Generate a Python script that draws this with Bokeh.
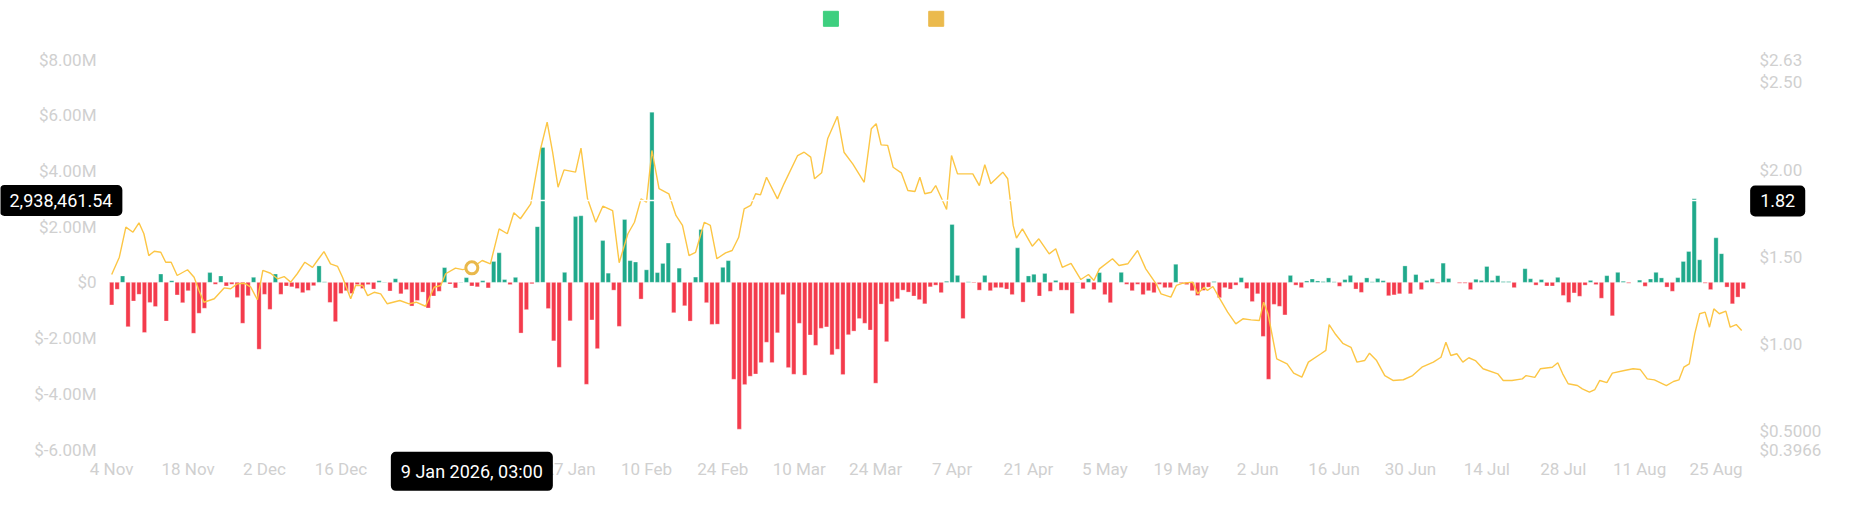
from bokeh.plotting import figure
from bokeh.models import ColumnDataSource, Range1d, Span, Label
from bokeh.core.properties import value
from bokeh.embed import file_html
from bokeh.resources import INLINE

# net flow per day (millions of USD), day 0 = 4 Nov 2025
flows = [
    -0.81, -0.25, 0.23, -1.59, -0.67, -0.43, -1.80, -0.72, -0.87, 0.30,
    -1.39, 0.06, -0.45, -0.73, -0.30, -1.83, -1.11, -0.93, 0.35, -0.07,
    0.23, -0.13, -0.07, -0.54, -1.47, -0.48, 0.18, -2.40, -0.43, -0.97,
    0.30, -0.43, -0.13, -0.16, -0.22, -0.37, -0.29, -0.12, 0.59, 0.02,
    -0.72, -1.41, -0.40, -0.30, -0.40, -0.08, -0.22, -0.08, -0.24, 0.06,
    0.01, -0.31, 0.13, -0.41, -0.26, -0.85, -0.65, -0.35, -0.92, -0.49,
    -0.32, 0.53, -0.06, -0.20, 0.01, 0.17, -0.13, -0.16, 0.06, -0.20,
    0.75, 1.06, 0.10, -0.08, 0.18, -1.82, -0.98, -0.05, 2.00, 4.84,
    -0.94, -2.10, -3.05, 0.36, -1.38, 2.36, 2.39, -3.66, -1.35, -2.38,
    1.50, 0.33, -0.28, -1.58, 2.26, 0.78, 0.73, -0.60, 0.45, 6.11,
    0.35, 0.68, 1.41, -1.09, 0.51, -0.84, -1.39, 0.19, 1.90, -0.73,
    -1.51, -1.50, 0.54, 0.78, -3.48, -5.27, -3.67, -3.37, -3.29, -2.88,
    -2.15, -2.88, -1.81, -0.44, -3.06, -3.30, -1.47, -3.33, -1.89, -2.26,
    -1.65, -1.60, -2.60, -2.40, -3.31, -1.88, -1.75, -1.30, -1.47, -1.71,
    -3.62, -0.78, -2.13, -0.69, -0.59, -0.28, -0.35, -0.49, -0.62, -0.77,
    -0.16, -0.10, -0.37, 0.04, 2.08, 0.25, -1.30, 0.02, -0.02, -0.28,
    0.25, -0.30, -0.19, -0.19, -0.24, -0.44, 1.24, -0.71, 0.23, 0.29,
    -0.49, 0.32, -0.32, 0.07, -0.28, -0.28, -1.12, 0.01, -0.23, 0.13,
    -0.26, 0.35, -0.44, -0.73, 0.00, 0.36, -0.07, -0.30, -0.07, -0.44,
    -0.30, -0.37, -0.07, -0.19, -0.19, 0.65, -0.03, -0.08, -0.30, -0.47,
    -0.29, -0.17, 0.03, -0.55, -0.19, -0.24, -0.10, 0.17, -0.22, -0.69,
    -0.41, -1.94, -3.48, -0.79, -0.86, -1.17, 0.25, -0.10, -0.19, 0.05,
    0.12, 0.05, 0.03, 0.16, 0.02, -0.14, 0.10, 0.25, -0.24, -0.36,
    0.16, 0.02, 0.14, 0.06, -0.48, -0.45, -0.41, 0.59, -0.41, 0.28,
    -0.26, 0.07, 0.13, -0.03, 0.69, 0.14, 0.00, -0.03, -0.03, -0.26,
    0.11, 0.07, 0.57, 0.07, 0.24, 0.03, 0.03, -0.19, 0.00, 0.49,
    0.13, -0.10, 0.10, -0.13, -0.13, 0.18, -0.47, -0.72, -0.38, -0.50,
    -0.10, 0.07, -0.08, -0.57, 0.24, -1.20, 0.36, 0.04, -0.03, 0.00,
    0.08, -0.14, 0.12, 0.36, 0.16, -0.17, -0.32, 0.17, 0.75, 1.11,
    3.00, 0.81, -0.03, -0.26, 1.60, 1.03, -0.17, -0.77, -0.53, -0.23,
]

# price (USD)
price_day = [
    0.0, 1.4, 2.6, 3.9, 5.0, 5.9, 6.8, 7.8, 9.0, 9.9, 10.9, 12.0, 13.9, 15.1, 16.0,
    16.9, 18.8, 20.6, 21.8, 23.0, 24.3, 25.5, 26.7, 27.7, 29.1, 30.4, 31.6, 32.8, 34.0,
    35.4, 36.8, 37.7, 38.9, 40.1, 41.4, 42.3, 43.8, 44.7, 46.0, 46.9, 48.1, 49.3, 50.5,
    52.8, 54.5, 55.8, 57.5, 59.1, 60.3, 61.2, 63.0, 64.3, 66.0, 67.9, 69.4, 71.0, 72.5,
    73.7, 74.9, 76.8, 78.6, 79.8, 80.8, 81.8, 82.9, 85.0, 86.0, 87.2, 88.7, 90.0, 91.8,
    93.0, 94.6, 95.8, 97.0, 98.0, 99.0, 100.3, 102.1, 103.4, 104.6, 105.8, 107.0, 108.6,
    109.7, 110.9, 112.5, 113.7, 114.9, 115.9, 117.1, 118.0, 118.9, 120.0, 122.0, 123.2,
    125.7, 126.9, 128.1, 128.8, 130.1, 131.2, 133.0, 134.2, 135.8, 137.9, 139.2, 140.1,
    141.0, 142.2, 143.2, 144.7, 145.9, 147.2, 148.1, 149.0, 150.2, 151.0, 153.0, 153.9,
    155.0, 157.8, 159.0, 160.0, 161.1, 163.3, 164.2, 165.2, 165.8, 166.9, 168.7, 169.9,
    171.8, 173.0, 174.2, 175.8, 177.6, 179.0, 180.0, 181.0, 183.4, 184.6, 186.2, 188.0,
    189.5, 191.4, 192.3, 194.1, 195.1, 196.3, 198.1, 199.0, 200.2, 200.8, 201.8, 202.9,
    204.5, 206.0, 207.3, 208.8, 210.3, 211.1, 211.9, 213.5, 215.4, 216.6, 218.1, 219.3,
    221.6, 222.5, 223.1, 224.3, 225.6, 227.1, 228.2, 229.6, 230.5, 231.8, 233.3, 234.8,
    236.7, 238.4, 240.1, 242.2, 243.6, 244.5, 245.4, 246.5, 247.6, 248.7, 249.9, 251.3,
    254.0, 255.0, 256.6, 258.5, 259.2, 260.8, 261.8, 264.0, 265.0, 265.9, 266.9, 268.6,
    269.5, 270.8, 271.8, 272.7, 274.0, 275.0, 277.2, 278.8, 280.1, 281.4, 282.7, 284.9,
    286.2, 287.2, 288.1, 289.1, 290.1, 291.0, 292.0, 292.8, 293.6, 294.6, 295.8, 296.6,
    297.7, 298.7,
]
price_val = [
    1.399, 1.498, 1.670, 1.641, 1.695, 1.632, 1.507, 1.532, 1.526, 1.469, 1.469, 1.393, 1.426, 1.383, 1.307,
    1.240, 1.260, 1.322, 1.317, 1.345, 1.349, 1.326, 1.254, 1.422, 1.406, 1.374, 1.387, 1.355, 1.403,
    1.469, 1.440, 1.479, 1.530, 1.460, 1.445, 1.383, 1.260, 1.336, 1.336, 1.278, 1.297, 1.288, 1.231,
    1.250, 1.231, 1.240, 1.217, 1.326, 1.336, 1.403, 1.435, 1.427, 1.437, 1.479, 1.460, 1.660, 1.632,
    1.752, 1.718, 1.803, 2.119, 2.271, 2.099, 1.899, 1.998, 1.985, 2.122, 1.832, 1.698, 1.790, 1.765,
    1.466, 1.632, 1.698, 1.832, 1.813, 2.109, 1.890, 1.861, 1.737, 1.680, 1.507, 1.526, 1.698,
    1.680, 1.489, 1.523, 1.536, 1.612, 1.775, 1.794, 1.861, 1.855, 1.956, 1.832, 1.918,
    2.080, 2.099, 2.071, 1.947, 1.981, 2.176, 2.305, 2.099, 2.032, 1.927, 2.233, 2.262,
    2.141, 2.138, 2.013, 1.981, 1.880, 1.874, 1.956, 1.861, 1.870, 1.908, 1.771, 2.080,
    1.975, 1.975, 1.908, 2.027, 1.918, 1.985, 1.947, 1.680, 1.607, 1.660, 1.561, 1.603,
    1.517, 1.546, 1.440, 1.463, 1.370, 1.399, 1.364, 1.431, 1.489, 1.450, 1.460, 1.536,
    1.431, 1.345, 1.288, 1.269, 1.336, 1.349, 1.355, 1.288, 1.326, 1.307, 1.330, 1.269,
    1.183, 1.116, 1.145, 1.139, 1.135, 1.240, 1.174, 0.916, 0.887, 0.834, 0.811, 0.897,
    0.945, 0.964, 1.112, 1.055, 1.005, 0.982, 0.897, 0.906, 0.948, 0.906, 0.820, 0.792,
    0.796, 0.820, 0.868, 0.897, 0.925, 1.011, 0.935, 0.945, 0.897, 0.922, 0.906, 0.859,
    0.830, 0.792, 0.792, 0.801, 0.820, 0.810, 0.859, 0.868, 0.893, 0.830, 0.773, 0.763,
    0.744, 0.725, 0.740, 0.792, 0.780, 0.834, 0.849, 0.859, 0.855, 0.801, 0.795, 0.763,
    0.786, 0.795, 0.868, 0.887, 1.059, 1.174, 1.183, 1.097, 1.202, 1.174, 1.189, 1.097,
    1.112, 1.078,
]

tick_days = [0, 14, 28, 42, 56, 70, 84, 98, 112, 126, 140, 154, 168, 182, 196, 210, 224, 238, 252, 266, 280, 294]
tick_labels = ["4 Nov", "18 Nov", "2 Dec", "16 Dec", "30 Dec", "13 Jan", "27 Jan", "10 Feb", "24 Feb",
               "10 Mar", "24 Mar", "7 Apr", "21 Apr", "5 May", "19 May", "2 Jun", "16 Jun", "30 Jun",
               "14 Jul", "28 Jul", "11 Aug", "25 Aug"]
flow_ticks = [-6, -4, -2, 0, 2, 4, 6, 8]
flow_tick_labels = ["$-6.00M", "$-4.00M", "$-2.00M", "$0", "$2.00M", "$4.00M", "$6.00M", "$8.00M"]
price_ticks = [0.3966, 0.5, 1.0, 1.5, 2.0, 2.5, 2.63]
price_tick_labels = ["$0.3966", "$0.5000", "$1.00", "$1.50", "$2.00", "$2.50", "$2.63"]

# crosshair state shown in the picture
hover_day = 66
hover_price = 1.437
hover_text = "9 Jan 2026, 03:00"
cursor_flow = 2938461.54
cursor_price = 1.82

FONT = "Roboto"
GREY = "#d0d0d0"
GREEN = "#1fa98b"
RED = "#f43b4c"
YELLOW = "#fcc645"

W, H = 1836, 509
# plot area inside the canvas (px): data days -1.5..300.5, flows -6..8, price 0.3966..2.63
AX_L, AX_R, AX_T, AX_B = 103, 1751, 59, 449
day0, day1 = -1.5, 300.5
f0, f1 = -6.0, 8.0
p0, p1 = 0.3966, 2.63

kx = (day1 - day0) / (AX_R - AX_L)
kf = (f1 - f0) / (AX_B - AX_T)
kp = (p1 - p0) / (AX_B - AX_T)
x_range = Range1d(day0 - AX_L * kx, day1 + (W - AX_R) * kx)
y_range = Range1d(f0 - (H - AX_B) * kf, f1 + AX_T * kf)
price_range = Range1d(p0 - (H - AX_B) * kp, p1 + AX_T * kp)

p = figure(width=W, height=H, x_range=x_range, y_range=y_range,
           x_axis_type=None, y_axis_type=None,
           output_backend="svg", toolbar_location=None, tools="",
           min_border=0)
p.extra_y_ranges = {"price": price_range}
p.outline_line_color = None
p.background_fill_color = "white"
p.border_fill_color = "white"

label_style = dict(text_font=value(FONT), text_font_size=value("17px"), text_color=GREY)

# y-axis labels
p.text(x=[day0] * len(flow_ticks), y=flow_ticks, text=flow_tick_labels,
       text_align="right", text_baseline="middle", x_offset=-7, **label_style)
p.text(x=[day1] * len(price_ticks), y=price_ticks, text=price_tick_labels, y_range_name="price",
       text_align="left", text_baseline="middle", x_offset=8, **label_style)
# x-axis labels
p.text(x=tick_days, y=[f0] * len(tick_days), text=tick_labels,
       text_align="center", text_baseline="middle", y_offset=19, **label_style)

src = ColumnDataSource(dict(
    day=list(range(len(flows))),
    flow=flows,
    color=[GREEN if v >= 0 else RED for v in flows],
))
p.vbar(x="day", top="flow", bottom=0, width=0.78, source=src,
       fill_color="color", line_color="white", line_alpha=0.45, line_width=0.7)

p.line(price_day, price_val, y_range_name="price", line_color=YELLOW, line_width=1.4)

# crosshair
p.add_layout(Span(location=cursor_flow / 1e6, dimension="width", line_color="white", line_width=1.3))
p.scatter([hover_day], [hover_price], y_range_name="price", marker="circle", size=12,
          fill_color="white", line_color="#e9b84b", line_width=3)

# legend squares (labels are blank in the original)
p.scatter([131.8, 151.1], [9.461, 9.461], marker="square", size=15,
          color=["#3ecf7f", "#ebba4d"])

box_style = dict(text_color="white", text_font=FONT, text_font_size="18px",
                 text_align="center", text_baseline="middle",
                 background_fill_color="black", border_radius=5,
                 padding=dict(left=10, right=10, top=9, bottom=9))
p.add_layout(Label(x=-9.3, y=cursor_flow / 1e6, text=f"{cursor_flow:,.2f}", **box_style))
p.add_layout(Label(x=305.3, y=cursor_price, y_range_name="price", text=f"{cursor_price:.2f}", **box_style))
p.add_layout(Label(x=hover_day, y=-6.785, text=hover_text, **box_style))

open("out.html", "w").write(file_html(p, INLINE))
